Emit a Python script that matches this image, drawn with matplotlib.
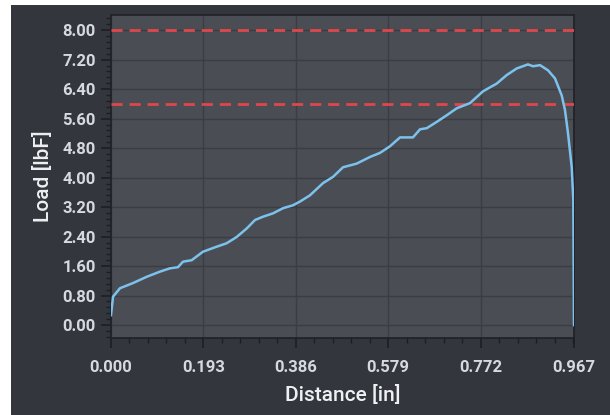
import matplotlib
matplotlib.use("Agg")
import matplotlib.pyplot as plt
from matplotlib.patches import Rectangle
from matplotlib.ticker import FixedLocator, AutoMinorLocator

distance = [0.0, 0.0042, 0.0188, 0.0459, 0.0746, 0.1023, 0.1232, 0.1399, 0.1504,
            0.1685, 0.1921, 0.2172, 0.2416, 0.2625, 0.2834, 0.3008, 0.3175, 0.3383,
            0.3592, 0.3801, 0.3947, 0.4156, 0.4428, 0.4637, 0.4845, 0.5132, 0.5409,
            0.5618, 0.5827, 0.6036, 0.6307, 0.6454, 0.6594, 0.6802, 0.7011, 0.7220,
            0.7498, 0.7769, 0.8056, 0.8264, 0.8473, 0.8709, 0.8814, 0.8960, 0.9127,
            0.9273, 0.9413, 0.9482, 0.9545, 0.9622, 0.9656, 0.967]
load = [0.27, 0.77, 1.0, 1.14, 1.31, 1.45, 1.54, 1.57, 1.72,
        1.76, 1.99, 2.11, 2.22, 2.39, 2.62, 2.85, 2.94, 3.03,
        3.17, 3.25, 3.35, 3.52, 3.85, 4.02, 4.28, 4.38, 4.56,
        4.67, 4.85, 5.09, 5.09, 5.31, 5.34, 5.51, 5.69, 5.88,
        6.02, 6.34, 6.55, 6.78, 6.96, 7.07, 7.02, 7.05, 6.91,
        6.69, 6.23, 5.83, 5.2, 4.29, 3.39, 0.0]
limit_lines = [8.0, 6.0]
x_ticks = [0.0, 0.193, 0.386, 0.579, 0.772, 0.967]
x_tick_labels = ["0.000", "0.193", "0.386", "0.579", "0.772", "0.967"]
y_ticks = [0.0, 0.8, 1.6, 2.4, 3.2, 4.0, 4.8, 5.6, 6.4, 7.2, 8.0]
y_tick_labels = ["0.00", "0.80", "1.60", "2.40", "3.20", "4.00", "4.80", "5.60", "6.40", "7.20", "8.00"]

W, H = 610, 415
fig = plt.figure(figsize=(W / 100, H / 100), dpi=100)
fig.patch.set_facecolor("white")
fig.add_artist(Rectangle((11 / W, 0), 1 - 11 / W, 1 - 5 / H, transform=fig.transFigure,
                         facecolor="#33363d", edgecolor="none", zorder=-10))

ax = fig.add_axes([111 / W, (H - 338) / H, 463 / W, 323 / H])
ax.set_facecolor("#4a4e54")
ax.set_xlim(0, 0.967)
ax.set_ylim(-0.35, 8.41)

ax.xaxis.set_major_locator(FixedLocator(x_ticks))
ax.set_xticklabels(x_tick_labels)
ax.yaxis.set_major_locator(FixedLocator(y_ticks))
ax.set_yticklabels(y_tick_labels)
ax.xaxis.set_minor_locator(AutoMinorLocator(5))
ax.yaxis.set_minor_locator(AutoMinorLocator(5))

ax.grid(True, which="major", color="#3a3d43", linewidth=1.0)
ax.set_axisbelow(True)

for s in ax.spines.values():
    s.set_color("#1f2125")
    s.set_linewidth(1.2)

tick_color = "#1c1e22"
ax.tick_params(axis="both", which="major", direction="out", length=7, width=1.2, color=tick_color,
               labelcolor="#d6d9de", labelsize=12)
ax.tick_params(axis="x", which="major", pad=9)
ax.tick_params(axis="y", which="major", pad=4)
ax.tick_params(which="minor", direction="out", length=3.5, width=1.0, color=tick_color)
for lab in ax.get_xticklabels() + ax.get_yticklabels():
    lab.set_fontfamily("Roboto")
    lab.set_fontweight("bold")

for yv in limit_lines:
    ax.axhline(yv, color="#e0474c", linewidth=2.0, linestyle=(0, (4, 2.5)), zorder=3)

ax.plot(distance, load, color="#7cc2ec", linewidth=1.8, zorder=4, solid_joinstyle="round")

ax.set_xlabel("Distance [in]", fontsize=15, color="#eef0f2", family="Roboto",
              fontweight="medium", labelpad=7)
ax.set_ylabel("Load [lbF]", fontsize=15, color="#eef0f2", family="Roboto",
              fontweight="medium", labelpad=7)

fig.savefig("out.png", dpi=100, facecolor=fig.get_facecolor())
